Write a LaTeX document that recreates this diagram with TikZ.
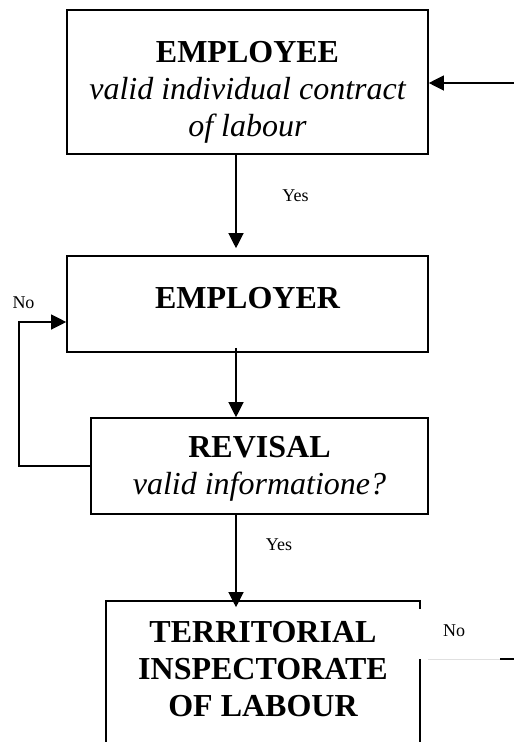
\documentclass[tikz,border=0pt]{standalone}
\usepackage{fontspec}
\setmainfont{Liberation Serif}
\usetikzlibrary{arrows.meta,calc}
\begin{document}
\begin{tikzpicture}[x=1pt,y=-1pt,
  box/.style={draw, line width=1.6pt, rectangle, inner sep=0pt, align=center, font=\fontsize{32}{37}\selectfont},
  arr/.style={line width=1.2pt, -{Triangle[length=15pt,width=15pt]}},
  lbl/.style={font=\fontsize{18}{20}\selectfont, inner sep=0pt}]
\useasboundingbox (0,0) rectangle (514,742);
\node[box, minimum width=361pt, minimum height=144pt] (b1) at (247.5,82)
  {{\bfseries\rule{0pt}{42pt}EMPLOYEE}\\{\itshape valid individual contract}\\{\itshape of labour}};
\node[box, minimum width=361pt, minimum height=96pt] (b2) at (247.5,304)
  {{\bfseries EMPLOYER\rule[-12pt]{0pt}{12pt}}};
\node[box, minimum width=337pt, minimum height=96pt] (b3) at (259.5,466)
  {{\bfseries\rule{0pt}{27pt}REVISAL}\\{\itshape valid informatione?}};
\node[box, draw=none, minimum width=312pt, minimum height=148pt] (b4) at (263,676)
  {{\bfseries TERRITORIAL}\\{\bfseries INSPECTORATE}\\{\bfseries OF LABOUR\rule[-15pt]{0pt}{15pt}}};
\draw[line width=1.6pt] ($(b4.north east)+(0,8)$) -- (b4.north east) -- (b4.north west) -- (b4.south west) -- (b4.south east) -- ($(b4.north east)+(0,58)$);
\coordinate (ax) at (236,0);
\draw[arr, shorten >=7pt] (b1.south -| ax) -- (b2.north -| ax);
\draw[arr, shorten <=-5pt] (b2.south -| ax) -- (b3.north -| ax);
\draw[arr, shorten >=-6pt] (b3.south -| ax) -- (b4.north -| ax);
\coordinate (lp) at (19,322);
\draw[arr] (b3.west) -- (b3.west -| lp) -- (lp) -- (lp -| b2.west);
\coordinate (rin) at (514,83);
\draw[arr] (rin) -- (rin -| b1.east);
\coordinate (gs) at (428,659);
\coordinate (gm) at (500,659);
\coordinate (rout) at (514,659);
\draw[black!12, line width=0.8pt] (gs) -- (gm);
\draw[line width=1.2pt] (gm) -- (rout);
\node[lbl] (yes1) at (295.5,196) {Yes};
\node[lbl] (yes2) at (279,545) {Yes};
\node[lbl] (no1) at (23.5,303) {No};
\node[lbl] (no2) at (454,631) {No};
\end{tikzpicture}
\end{document}
